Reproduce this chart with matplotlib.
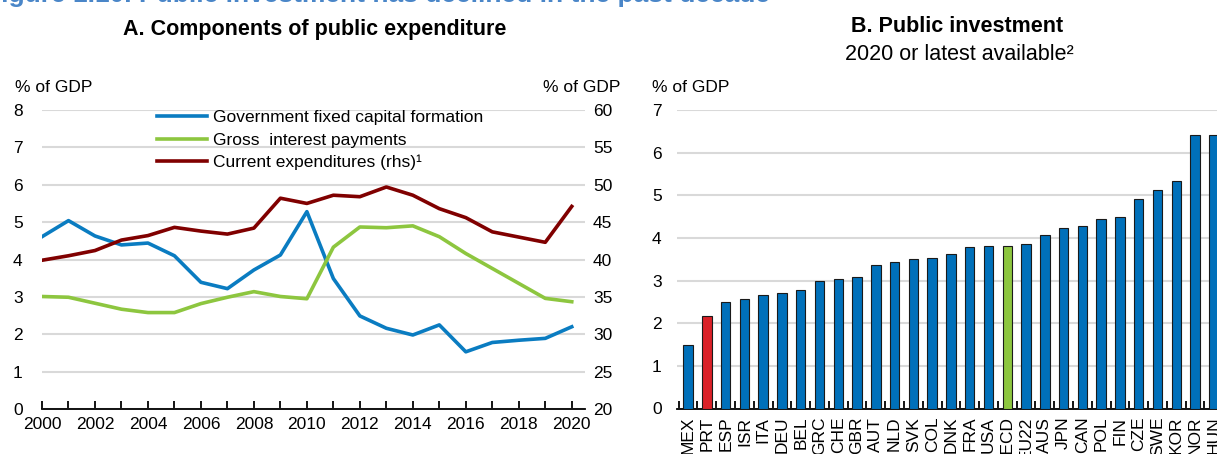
import matplotlib
matplotlib.use('Agg')
import matplotlib.pyplot as plt
from matplotlib.ticker import MultipleLocator, FixedLocator

plt.rcParams['font.family'] = ['Liberation Sans', 'DejaVu Sans']

# ---------------- data ----------------
years = list(range(2000, 2021))
gfcf = [4.61, 5.04, 4.63, 4.39, 4.44, 4.10, 3.39, 3.22, 3.72, 4.12, 5.28,
        3.49, 2.49, 2.16, 1.98, 2.25, 1.53, 1.78, 1.84, 1.89, 2.20]
interest = [3.01, 2.99, 2.83, 2.67, 2.58, 2.58, 2.82, 2.99, 3.14, 3.01, 2.95,
            4.33, 4.87, 4.85, 4.90, 4.61, 4.16, 3.76, 3.36, 2.96, 2.87]
current = [39.9, 40.5, 41.2, 42.6, 43.2, 44.3, 43.8, 43.4, 44.2, 48.2, 47.5,
           48.6, 48.4, 49.7, 48.6, 46.8, 45.6, 43.7, 43.0, 42.3, 47.1]

countries = ['MEX', 'PRT', 'ESP', 'ISR', 'ITA', 'DEU', 'BEL', 'GRC', 'CHE', 'GBR',
             'AUT', 'NLD', 'SVK', 'COL', 'DNK', 'FRA', 'USA', 'OECD', 'EU22', 'AUS',
             'JPN', 'CAN', 'POL', 'FIN', 'CZE', 'SWE', 'KOR', 'NOR', 'HUN']
invest = [1.49, 2.18, 2.50, 2.56, 2.67, 2.71, 2.77, 2.98, 3.04, 3.08,
          3.37, 3.43, 3.50, 3.52, 3.62, 3.78, 3.80, 3.82, 3.86, 4.08,
          4.23, 4.29, 4.45, 4.48, 4.91, 5.12, 5.34, 6.41, 6.41]

legend_labels = ['Government fixed capital formation', 'Gross  interest payments',
                 'Current expenditures (rhs)\u00b9']

# ---------------- style ----------------
BLUE_LINE = '#0A7CC1'
GREEN = '#8DC63F'
DARKRED = '#800000'
BAR_BLUE = '#0070BA'
BAR_RED = '#DA2128'
GRID = '#D9D9D9'
FS = 12.5

W, H = 1217, 454
fig = plt.figure(figsize=(W / 100, H / 100), dpi=100)


def fx(px):
    return px / W


def fy(py):
    return 1 - py / H


def px2pt(px):
    return px * 72 / 100


# partial figure title at the very top (cut off)
fig.text(fx(-15), fy(2), 'Figure 1.10. Public investment has declined in the past decade',
         color='#4A86C8', fontsize=19, fontweight='bold', ha='left', va='baseline')

# ---------------- Panel A ----------------
axL = fig.add_axes([fx(42), fy(409), fx(585) - fx(42), fy(110) - fy(409)])
axR = axL.twinx()

axL.plot(years, gfcf, color=BLUE_LINE, lw=2.6, label=legend_labels[0], zorder=3)
axL.plot(years, interest, color=GREEN, lw=2.6, label=legend_labels[1], zorder=3)
axR.plot(years, current, color=DARKRED, lw=2.6, label=legend_labels[2], zorder=3)

axL.set_xlim(2000, 2020.5)
axL.set_ylim(0, 8)
axR.set_ylim(20, 60)
axL.set_yticks(range(0, 9))
axR.set_yticks(range(20, 61, 5))
axL.set_xticks(range(2000, 2021, 2))
axL.xaxis.set_minor_locator(MultipleLocator(1))
axL.grid(axis='y', color=GRID, lw=1.5, zorder=0)
axL.set_axisbelow(True)
for ax in (axL, axR):
    for s in ('top', 'left', 'right', 'bottom'):
        ax.spines[s].set_visible(False)
axL.spines['bottom'].set_visible(True)
axL.spines['bottom'].set_linewidth(1.3)
axL.tick_params(axis='y', length=0, labelsize=FS, pad=px2pt(29))
axR.tick_params(axis='y', length=0, labelsize=FS, pad=px2pt(8))
axL.tick_params(axis='x', which='both', direction='in', length=6, width=1.3,
                labelsize=FS, pad=6)
for lab in axL.get_yticklabels():
    lab.set_horizontalalignment('left')

fig.text(fx(15), fy(88), '% of GDP', fontsize=FS, ha='left', va='center')
fig.text(fx(620), fy(88), '% of GDP', fontsize=FS, ha='right', va='center')
fig.text(fx(315), fy(30), 'A. Components of public expenditure', fontsize=15.5,
         fontweight='bold', ha='center', va='center')

h1, l1 = axL.get_legend_handles_labels()
h2, l2 = axR.get_legend_handles_labels()
leg = axR.legend(h1 + h2, l1 + l2, loc='upper left',
                 bbox_to_anchor=(fx(157), fy(110)), bbox_transform=fig.transFigure,
                 frameon=False, fontsize=FS, handlelength=2.9, handletextpad=0.3,
                 labelspacing=0.42, borderaxespad=0, borderpad=0)

# ---------------- Panel B ----------------
axB = fig.add_axes([fx(677), fy(408.5), 1.002 - fx(677), fy(110) - fy(408.5)])
xpos = list(range(len(countries)))
colors = [BAR_RED if c == 'PRT' else GREEN if c == 'OECD' else BAR_BLUE for c in countries]
axB.bar(xpos, invest, width=0.5, color=colors, edgecolor='#1a1a1a', linewidth=0.8, zorder=3)
axB.set_xlim(-0.59, len(countries) - 0.7)
axB.set_ylim(0, 7)
axB.set_yticks(range(0, 8))
axB.grid(axis='y', color=GRID, lw=1.5, zorder=0)
axB.set_axisbelow(True)
for s in ('top', 'left', 'right'):
    axB.spines[s].set_visible(False)
axB.spines['bottom'].set_linewidth(1.3)
axB.set_xticks(xpos)
axB.set_xticklabels(countries, rotation=90, fontsize=FS)
axB.xaxis.set_minor_locator(FixedLocator([i - 0.5 for i in range(len(countries) + 1)]))
axB.tick_params(axis='x', which='major', length=0, pad=6)
axB.tick_params(axis='x', which='minor', direction='in', length=6, width=1.3)
axB.tick_params(axis='y', length=0, labelsize=FS, pad=px2pt(25))
for lab in axB.get_yticklabels():
    lab.set_horizontalalignment('left')

fig.text(fx(652), fy(88), '% of GDP', fontsize=FS, ha='left', va='center')
fig.text(fx(957), fy(27), 'B. Public investment', fontsize=15.5,
         fontweight='bold', ha='center', va='center')
fig.text(fx(959), fy(55), '2020 or latest available\u00b2', fontsize=15.5,
         ha='center', va='center')

fig.savefig('out.png', dpi=100)
